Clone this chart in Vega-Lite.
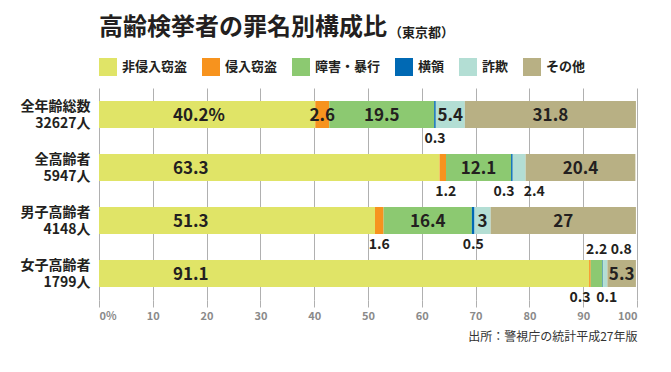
{
  "$schema": "https://vega.github.io/schema/vega-lite/v6.json",
  "width": 538,
  "height": 212,
  "padding": {"left": 20, "top": 16, "right": 30, "bottom": 5},
  "background": "white",
  "config": {
    "view": {"stroke": null},
    "font": "Noto Sans CJK JP"
  },
  "title": {
    "text": "高齢検挙者の罪名別構成比",
    "subtitle": "\u2800\u2800\u2800\u2800\u2800\u2800\u2800\u2800\u2800\u2800\u2800\u2800\u2800\u2800\u2800\u2800\u2800\u2800\u2800\u2800\u2800\u2800\u2800\u2800\u2800\u2800\u2800\u2800\u2800（東京都）",
    "anchor": "start",
    "frame": "group",
    "fontSize": 24,
    "fontWeight": "bold",
    "color": "#231f20",
    "subtitleFontSize": 13,
    "subtitleFontWeight": "bold",
    "subtitleColor": "#231f20",
    "subtitlePadding": -13,
    "offset": 18,
    "font": "Noto Sans CJK JP",
    "subtitleFont": "Noto Sans CJK JP"
  },
  "data": {
    "values": [
      {"g": "全年齢総数|32627人", "cat": "非侵入窃盗", "v": 40.2},
      {"g": "全年齢総数|32627人", "cat": "侵入窃盗", "v": 2.6},
      {"g": "全年齢総数|32627人", "cat": "障害・暴行", "v": 19.5},
      {"g": "全年齢総数|32627人", "cat": "横領", "v": 0.3},
      {"g": "全年齢総数|32627人", "cat": "詐欺", "v": 5.4},
      {"g": "全年齢総数|32627人", "cat": "その他", "v": 31.8},
      {"g": "全高齢者|5947人", "cat": "非侵入窃盗", "v": 63.3},
      {"g": "全高齢者|5947人", "cat": "侵入窃盗", "v": 1.2},
      {"g": "全高齢者|5947人", "cat": "障害・暴行", "v": 12.1},
      {"g": "全高齢者|5947人", "cat": "横領", "v": 0.3},
      {"g": "全高齢者|5947人", "cat": "詐欺", "v": 2.4},
      {"g": "全高齢者|5947人", "cat": "その他", "v": 20.4},
      {"g": "男子高齢者|4148人", "cat": "非侵入窃盗", "v": 51.3},
      {"g": "男子高齢者|4148人", "cat": "侵入窃盗", "v": 1.6},
      {"g": "男子高齢者|4148人", "cat": "障害・暴行", "v": 16.4},
      {"g": "男子高齢者|4148人", "cat": "横領", "v": 0.5},
      {"g": "男子高齢者|4148人", "cat": "詐欺", "v": 3},
      {"g": "男子高齢者|4148人", "cat": "その他", "v": 27},
      {"g": "女子高齢者|1799人", "cat": "非侵入窃盗", "v": 91.1},
      {"g": "女子高齢者|1799人", "cat": "侵入窃盗", "v": 0.3},
      {"g": "女子高齢者|1799人", "cat": "障害・暴行", "v": 2.2},
      {"g": "女子高齢者|1799人", "cat": "横領", "v": 0.1},
      {"g": "女子高齢者|1799人", "cat": "詐欺", "v": 0.8},
      {"g": "女子高齢者|1799人", "cat": "その他", "v": 5.3}
    ]
  },
  "transform": [
    {"calculate": "indexof(['非侵入窃盗','侵入窃盗','障害・暴行','横領','詐欺','その他'], datum.cat)", "as": "k"},
    {"stack": "v", "groupby": ["g"], "sort": [{"field": "k", "order": "ascending"}], "as": ["x0", "x1"]},
    {"calculate": "(datum.x0 + datum.x1) / 2", "as": "mid"},
    {"calculate": "datum.g == '全年齢総数|32627人' && datum.k == 0 ? datum.v + '%' : '' + datum.v", "as": "t"}
  ],
  "encoding": {
    "y": {
      "field": "g",
      "type": "nominal",
      "sort": null,
      "title": null,
      "scale": {"paddingInner": 0.49, "paddingOuter": 0.245},
      "axis": {
        "labelExpr": "split(datum.value, '|')",
        "labelFontSize": 14,
        "labelFontWeight": "bold",
        "labelColor": "#231f20",
        "labelLineHeight": 17,
        "labelPadding": 9,
        "labelOffset": -8,
        "ticks": false,
        "domain": false,
        "grid": false
      }
    }
  },
  "layer": [
    {
      "mark": {"type": "bar"},
      "encoding": {
        "x": {
          "field": "x0",
          "type": "quantitative",
          "scale": {"domain": [0, 100], "nice": false},
          "title": "出所：警視庁の統計平成27年版",
          "axis": {
            "values": [0, 10, 20, 30, 40, 50, 60, 70, 80, 90, 100],
            "labelExpr": "datum.value == 0 ? '0%' : datum.label",
            "grid": true,
            "gridColor": "#b0b0b0",
            "gridWidth": 1,
            "ticks": true,
            "tickSize": 7,
            "tickColor": "#b0b0b0",
            "domain": false,
            "labelFontSize": 11,
            "labelFontWeight": "bold",
            "labelColor": "#8a8a8a",
            "labelPadding": 3,
            "titleAnchor": "end",
            "titleAlign": "right",
            "titleFontSize": 12,
            "titleFontWeight": "normal",
            "titleColor": "#333333",
            "titlePadding": 10
          }
        },
        "x2": {"field": "x1"},
        "color": {
          "field": "cat",
          "type": "nominal",
          "scale": {
            "domain": ["非侵入窃盗", "侵入窃盗", "障害・暴行", "横領", "詐欺", "その他"],
            "range": ["#e0e467", "#f7931e", "#8cc971", "#0069b4", "#b3ded4", "#b8b084"]
          },
          "legend": {
            "orient": "top",
            "direction": "horizontal",
            "title": null,
            "symbolType": "square",
            "symbolSize": 324,
            "symbolStrokeWidth": 0,
            "symbolOpacity": 1,
            "labelFontSize": 13,
            "labelFontWeight": "bold",
            "labelColor": "#231f20",
            "labelOffset": 5,
            "columnPadding": 14,
            "offset": 12,
            "padding": 0
          }
        }
      }
    },
    {
      "transform": [{"filter": "datum.k == 0"}],
      "mark": {"type": "text", "align": "left", "baseline": "middle", "dx": 74, "dy": 1, "fontSize": 17, "fontWeight": "bold", "color": "#231f20"},
      "encoding": {
        "x": {"field": "x0", "type": "quantitative", "title": "出所：警視庁の統計平成27年版"},
        "text": {"field": "t"}
      }
    },
    {
      "transform": [{"filter": "datum.k > 0 && datum.v >= 2.5"}],
      "mark": {"type": "text", "align": "center", "baseline": "middle", "dy": 1, "fontSize": 17, "fontWeight": "bold", "color": "#231f20"},
      "encoding": {
        "x": {"field": "mid", "type": "quantitative", "title": "出所：警視庁の統計平成27年版"},
        "text": {"field": "t"}
      }
    },
    {
      "transform": [{"filter": "datum.v < 2.5 && !(datum.g == '女子高齢者|1799人' && (datum.k == 2 || datum.k == 4))"}],
      "mark": {
        "type": "text", "align": "center", "baseline": "middle", "dy": 24, "fontSize": 14, "fontWeight": "bold", "color": "#231f20",
        "dx": {"expr": "datum.g == '全高齢者|5947人' && datum.k == 1 ? 3 : datum.g == '全高齢者|5947人' && datum.k == 3 ? -8 : datum.g == '全高齢者|5947人' && datum.k == 4 ? 15 : datum.g == '女子高齢者|1799人' && datum.k == 1 ? -10 : datum.g == '女子高齢者|1799人' && datum.k == 3 ? 4 : 0"}
      },
      "encoding": {
        "x": {"field": "mid", "type": "quantitative", "title": "出所：警視庁の統計平成27年版"},
        "text": {"field": "t"}
      }
    },
    {
      "transform": [{"filter": "datum.g == '女子高齢者|1799人' && (datum.k == 2 || datum.k == 4)"}],
      "mark": {
        "type": "text", "align": "center", "baseline": "middle", "dy": -24, "fontSize": 14, "fontWeight": "bold", "color": "#231f20",
        "dx": {"expr": "datum.k == 4 ? 16 : 0"}
      },
      "encoding": {
        "x": {"field": "mid", "type": "quantitative", "title": "出所：警視庁の統計平成27年版"},
        "text": {"field": "t"}
      }
    }
  ]
}
